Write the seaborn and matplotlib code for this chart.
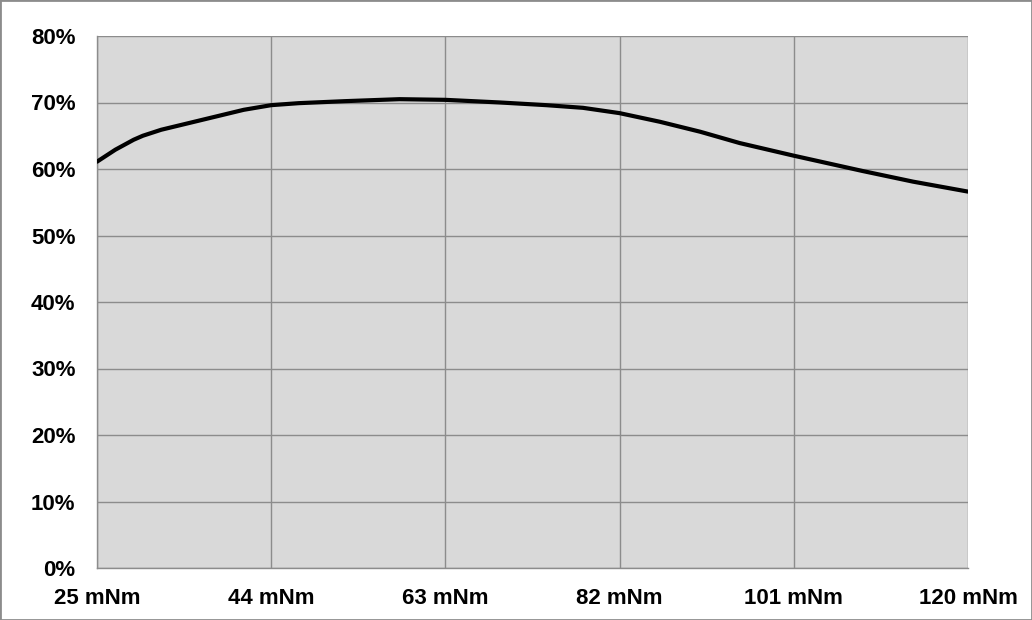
import matplotlib
matplotlib.use("Agg")
import matplotlib.pyplot as plt
import seaborn as sns
import pandas as pd
from matplotlib.patches import Rectangle
from matplotlib.ticker import FuncFormatter

torque_mnm = [25, 27, 29, 30, 32, 35, 38, 41, 44, 47, 52, 58, 63, 69, 74, 78, 82,
              86.4, 90.8, 95.1, 101, 108.5, 114, 120]
efficiency_pct = [61.1, 62.9, 64.4, 65.0, 65.9, 66.9, 67.9, 68.9, 69.6, 69.9, 70.2, 70.5,
                  70.4, 70.0, 69.6, 69.2, 68.4, 67.1, 65.6, 63.9, 62.0, 59.7, 58.1, 56.6]
x_ticks = [25, 44, 63, 82, 101, 120]
y_ticks = [0, 10, 20, 30, 40, 50, 60, 70, 80]

df = pd.DataFrame({"torque": torque_mnm, "eff": efficiency_pct})

sns.set_theme(style="white")
plt.rcParams["font.family"] = ["Liberation Sans", "DejaVu Sans"]

fig = plt.figure(figsize=(10.32, 6.2), dpi=100)
ax = fig.add_axes([97/1032, 1-568/620, (968-97)/1032, (568-36)/620])
ax.set_facecolor("#d9d9d9")

sns.lineplot(data=df, x="torque", y="eff", ax=ax, color="black", linewidth=3.0,
             estimator=None, sort=True, zorder=3)

ax.set_xlim(25, 120)
ax.set_ylim(0, 80)
ax.set_xticks(x_ticks)
ax.set_yticks(y_ticks)
ax.xaxis.set_major_formatter(FuncFormatter(lambda v, p: f"{int(v)} mNm"))
ax.yaxis.set_major_formatter(FuncFormatter(lambda v, p: f"{int(v)}%"))
ax.grid(True, color="#8c8c8c", linewidth=1.0, zorder=1)
ax.set_axisbelow(True)
ax.set_xlabel("")
ax.set_ylabel("")

for s in ["top", "right"]:
    ax.spines[s].set_visible(False)
for s in ["left", "bottom"]:
    ax.spines[s].set_visible(True)
    ax.spines[s].set_color("#8c8c8c")
    ax.spines[s].set_linewidth(1.0)

ax.tick_params(axis="both", which="major", direction="out", length=5.5, width=1.0,
               color="#8c8c8c", labelsize=16, labelcolor="black")
ax.tick_params(axis="y", pad=10)
ax.tick_params(axis="x", pad=9)
for lab in ax.get_xticklabels() + ax.get_yticklabels():
    lab.set_fontweight("bold")

fig.patches.append(Rectangle((0, 0), 1, 1, transform=fig.transFigure, fill=False,
                             edgecolor="#8c8c8c", linewidth=2.0, zorder=10))

fig.savefig("out.png", dpi=100, facecolor="white")
